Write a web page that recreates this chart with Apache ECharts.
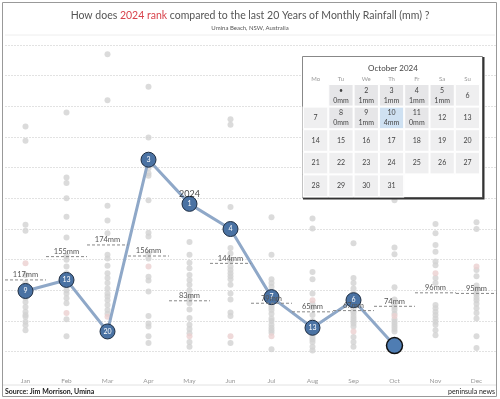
<!DOCTYPE html>
<html lang="en">
  <head>
    <meta charset="utf-8" />
    <title>Monthly Rainfall Rank</title>
    <script src="https://cdn.jsdelivr.net/npm/echarts@6/dist/echarts.min.js"></script>
    <style>
      html, body { margin: 0; padding: 0; background: #fff; }
      #chart { width: 500px; height: 399px; }
    </style>
  </head>
  <body>
    <div id="chart"></div>
    <script type="text/javascript">
      var months = ["Jan", "Feb", "Mar", "Apr", "May", "Jun", "Jul", "Aug", "Sep", "Oct", "Nov", "Dec"];
      // 2024 rainfall (mm) and its rank among the last 20 years
      var rain2024 = [99, 117, 33, 313, 241, 200, 89, 39, 84, 10];
      var rank2024 = ["9", "13", "20", "3", "1", "4", "7", "13", "6", ""];
      // 20 year average per month
      var means = [117, 155, 174, 156, 83, 144, 79, 65, 67, 74, 96, 95];
      // highlighted (pink) year
      var pinkYear = [144, 63, 57, 139, 25, 25, 25, 84, 33, 58, 128, 139];
      // other years, per month
      var janPast = [367, 344, 207, 197, 125, 112, 104, 95, 92, 88, 81, 73, 65, 60, 57, 49, 43, 35];
      var febPast = [390, 284, 275, 250, 220, 186, 156, 150, 139, 128, 122, 119, 95, 87, 79, 53, 25, 100];
      var marPast = [485, 410, 238, 214, 193, 158, 152, 140, 128, 120, 112, 103, 95, 90, 84, 76, 68, 62];
      var aprPast = [432, 349, 299, 291, 287, 247, 194, 188, 160, 152, 122, 116, 98, 58, 46, 41, 25, 14];
      var mayPast = [179, 158, 145, 136, 125, 117, 109, 100, 91, 85, 79, 69, 55, 44, 37, 30, 16, 8];
      var junPast = [379, 370, 236, 169, 160, 150, 147, 139, 133, 128, 123, 118, 109, 95, 85, 64, 58, 14];
      var julPast = [219, 158, 118, 112, 106, 95, 82, 76, 72, 68, 62, 54, 50, 44, 39, 35, 31, 4];
      var augPast = [330, 280, 217, 201, 130, 118, 95, 78, 72, 60, 50, 35, 30, 24, 20, 16, 8, 2];
      var sepPast = [177, 120, 112, 103, 95, 81, 76, 71, 66, 63, 58, 54, 50, 46, 41, 24, 16, 8];
      var octPast = [420, 310, 270, 247, 170, 159, 105, 85, 76, 72, 68, 62, 53, 49, 45, 41, 37, 33];
      var novPast = [290, 208, 193, 174, 163, 147, 141, 120, 112, 76, 71, 65, 60, 54, 49, 44, 35, 27];
      var decPast = [300, 260, 211, 200, 133, 123, 108, 102, 96, 93, 88, 84, 78, 71, 63, 54, 25, 6];
      // October 2024 daily rain (mm), days 1..11
      var octDaily = [0, 1, 1, 1, 1, null, null, 0, 1, 4, 0];

      var pastAll = [janPast, febPast, marPast, aprPast, mayPast, junPast, julPast, augPast, sepPast, octPast, novPast, decPast];
      var greyData = [];
      pastAll.forEach(function (arr, i) {
        arr.forEach(function (v) { greyData.push([months[i], v]); });
      });
      var pinkData = pinkYear.map(function (v, i) { return [months[i], v]; });

      var lineData = rain2024.map(function (v, i) {
        var item = { value: [months[i], v], rank: rank2024[i] };
        if (i === rain2024.length - 1) {
          item.symbolSize = 16;
          item.itemStyle = { color: "#4f7db3", borderColor: "#111", borderWidth: 1.5 };
        }
        return item;
      });

      var calData = [];
      for (var d = 1; d <= 31; d++) {
        var r = d <= octDaily.length ? octDaily[d - 1] : null;
        var col = "#efeff0";
        if (r !== null) col = "#e6e6e8";
        if (d === 10) col = "#cfe1f2";
        calData.push({
          value: ["2024-10-" + (d < 10 ? "0" + d : d), r === null ? 0 : r],
          day: d === 1 ? "\u2022" : String(d),
          rain: r,
          itemStyle: { color: col, borderColor: "#fff", borderWidth: 1 }
        });
      }

      var FONT = "Lato";
      var myChart = echarts.init(document.getElementById("chart"));
      myChart.setOption({
        animation: false,
        textStyle: { fontFamily: FONT },
        title: [
          {
            text: "{a|How does }{r|2024 rank}{a| compared to the last 20 Years of Monthly Rainfall (mm) ?}",
            left: "center",
            top: 10,
            padding: 0,
            textStyle: {
              fontWeight: "normal",
              rich: {
                a: { fontSize: 10.5, color: "#555", fontWeight: "normal", fontFamily: FONT },
                r: { fontSize: 10.5, color: "#d8434c", fontWeight: "normal", fontFamily: FONT }
              }
            }
          },
          {
            text: "Umina Beach, NSW, Australia",
            left: "center",
            top: 25,
            padding: 0,
            textStyle: { fontSize: 6, color: "#555", fontWeight: "normal", fontFamily: FONT }
          },
          {
            text: "October 2024",
            left: 393,
            textAlign: "center",
            top: 64,
            padding: 0,
            z: 14,
            textStyle: { fontSize: 8, color: "#444", fontWeight: "normal", fontFamily: FONT }
          }
        ],
        grid: { left: 5, right: 3, top: 45, bottom: 47.3 },
        xAxis: {
          type: "category",
          data: months,
          axisLine: { show: false },
          axisTick: { show: false },
          axisLabel: { margin: 26, fontSize: 6.5, color: "#999" },
          splitLine: { show: false }
        },
        yAxis: {
          type: "value",
          min: 0,
          max: 500,
          interval: 50,
          axisLine: { show: false },
          axisTick: { show: false },
          axisLabel: { show: false },
          splitLine: { lineStyle: { color: "#e2e2e2", type: [2, 1] } }
        },
        calendar: {
          orient: "vertical",
          left: 303,
          top: 84,
          cellSize: [25.3, 22.6],
          range: "2024-10",
          z: 12,
          splitLine: { show: false },
          itemStyle: { color: "#efeff0", borderColor: "#fff", borderWidth: 1 },
          dayLabel: {
            firstDay: 1,
            nameMap: ["Su", "Mo", "Tu", "We", "Th", "Fr", "Sa"],
            fontSize: 6,
            color: "#999",
            margin: 2
          },
          monthLabel: { show: false },
          yearLabel: { show: false }
        },
        graphic: [
          { type: "rect", shape: { x: 2.5, y: 2.5, width: 494, height: 394 }, style: { fill: "none", stroke: "#999", lineWidth: 1 }, z: 0 },
          { type: "line", shape: { x1: 5, y1: 35, x2: 495, y2: 35 }, style: { stroke: "#eee", lineWidth: 1 }, z: 0 },
          { type: "line", shape: { x1: 3, y1: 385, x2: 496, y2: 385 }, style: { stroke: "#e2e2e2", lineWidth: 1 }, z: 0 },
          { type: "rect", shape: { x: 302.5, y: 56.5, width: 180, height: 141 }, style: { fill: "#fff", stroke: "#888", lineWidth: 1 }, z: 10 },
          { type: "polyline", shape: { points: [[483.5, 57], [483.5, 198.5], [303, 198.5]] }, style: { fill: "none", stroke: "#333", lineWidth: 2 }, z: 10 },
          { type: "text", left: 5, top: 388, style: { text: "Source: Jim Morrison, Umina", fontSize: 7, fontWeight: "bold", fill: "#222", fontFamily: FONT } },
          { type: "text", right: 5, top: 388, style: { text: "peninsula news", fontSize: 7, fill: "#222", fontFamily: FONT } }
        ],
        series: [
          {
            name: "Past years",
            type: "scatter",
            data: greyData,
            symbolSize: 6,
            z: 1,
            itemStyle: { color: "#d2d2d2" },
            silent: true
          },
          {
            name: "Highlighted",
            type: "scatter",
            data: pinkData,
            symbolSize: 6,
            z: 1,
            itemStyle: { color: "#ebcfcf" },
            silent: true
          },
          {
            name: "2024",
            type: "line",
            data: lineData,
            z: 3,
            symbol: "circle",
            symbolSize: 15,
            lineStyle: { color: "#8fa8c8", width: 3 },
            itemStyle: { color: "#4a72a3", borderColor: "#1d2c40", borderWidth: 1 },
            label: {
              show: true,
              position: "inside",
              fontSize: 7,
              color: "#fff",
              formatter: function (p) { return p.data.rank; }
            }
          },
          {
            name: "2024 tag",
            type: "scatter",
            data: [[months[4], rain2024[4]]],
            symbolSize: 1,
            itemStyle: { color: "rgba(0,0,0,0)" },
            z: 4,
            label: {
              show: true,
              position: "top",
              distance: 5,
              formatter: "2024",
              fontSize: 9,
              color: "#111"
            }
          },
          {
            name: "Average",
            type: "custom",
            z: 5,
            data: means.map(function (m, i) { return [i, m]; }),
            renderItem: function (params, api) {
              var c = api.coord([api.value(0), api.value(1)]);
              var w = api.size([1, 0])[0];
              return {
                type: "group",
                children: [
                  {
                    type: "line",
                    shape: { x1: c[0] - w / 2, y1: c[1], x2: c[0] + w / 2, y2: c[1] },
                    style: { stroke: "#888", lineWidth: 1, lineDash: [3, 2] }
                  },
                  {
                    type: "text",
                    x: c[0],
                    y: c[1] - 1,
                    style: {
                      text: api.value(1) + "mm",
                      fontSize: 7.5,
                      fill: "#555",
                      fontFamily: FONT,
                      align: "center",
                      verticalAlign: "bottom"
                    }
                  }
                ]
              };
            }
          },
          {
            name: "October",
            type: "heatmap",
            coordinateSystem: "calendar",
            z: 13,
            data: calData,
            label: {
              show: true,
              fontSize: 7,
              lineHeight: 10,
              color: "#444",
              formatter: function (p) {
                return p.data.rain === null ? p.data.day : p.data.day + "\n" + p.data.rain + "mm";
              }
            }
          }
        ]
      });
    </script>
  </body>
</html>
